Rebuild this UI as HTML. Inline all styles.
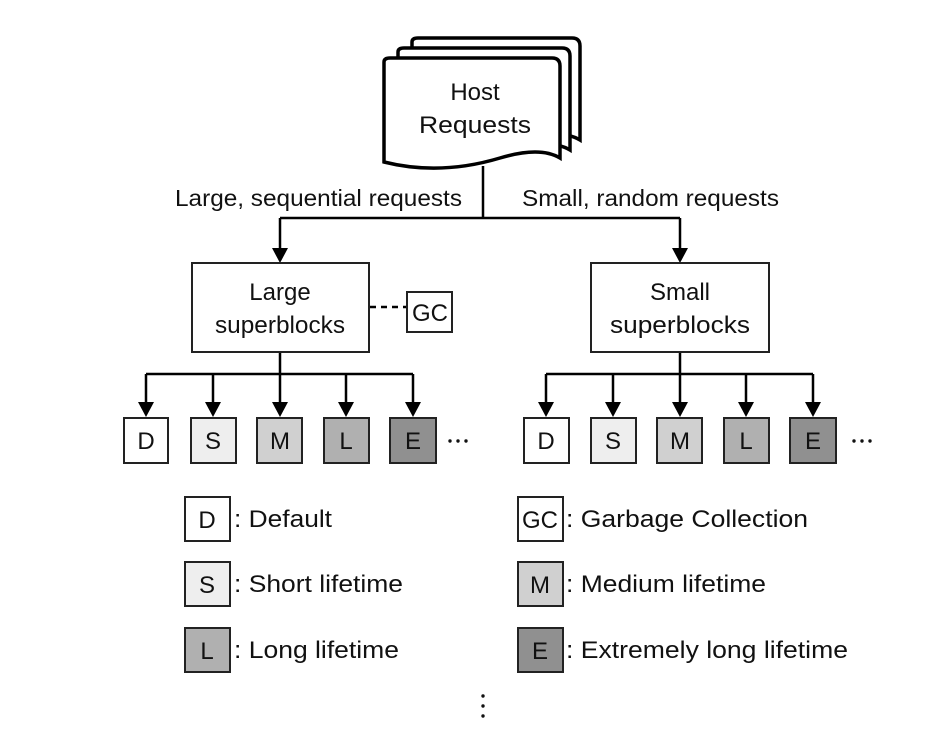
<!DOCTYPE html>
<html><head><style>
body{margin:0;background:#fff;}
svg text{font-family:"Liberation Sans",Arial,sans-serif;fill:#111;}
</style></head><body>
<svg width="950" height="735" viewBox="0 0 950 735" xmlns="http://www.w3.org/2000/svg">
<g fill="#fff" stroke="#000" stroke-width="3.5">
<path d="M412,42 Q412,38 418,38 L572,38 Q580,38 580,46 L580,140 Q560,128 520,140 Q470,156 412,146 Z"/>
<path d="M398,52 Q398,48 404,48 L562,48 Q570,48 570,56 L570,150 Q550,138 510,150 Q460,166 398,156 Z"/>
<path d="M384,62 Q384,58 390,58 L552,58 Q560,58 560,66 L560,158 Q540,146 500,158 Q440,176 384,162 Z"/>
</g>
<text x="475" y="100" font-size="24" text-anchor="middle">Host</text>
<text x="475" y="133" font-size="24" text-anchor="middle" textLength="112" lengthAdjust="spacingAndGlyphs">Requests</text>
<g stroke="#000" stroke-width="2.5" fill="none">
<path d="M483,166 V218 M280,218 H680 M280,218 V250 M680,218 V250"/>
<path d="M280,352 V374 M146,374 H413 M146,374 V405 M213,374 V405 M280,374 V405 M346,374 V405 M413,374 V405"/>
<path d="M680,352 V374 M546,374 H813 M546,374 V405 M613,374 V405 M680,374 V405 M746,374 V405 M813,374 V405"/>
<path d="M370,307 H406" stroke-dasharray="6,5"/>
</g>
<g fill="#000">
<path d="M272,248 L288,248 L280,263 Z"/><path d="M672,248 L688,248 L680,263 Z"/>
<path d="M138,402 l16,0 l-8,15 Z"/><path d="M205,402 l16,0 l-8,15 Z"/><path d="M272,402 l16,0 l-8,15 Z"/><path d="M338,402 l16,0 l-8,15 Z"/><path d="M405,402 l16,0 l-8,15 Z"/>
<path d="M538,402 l16,0 l-8,15 Z"/><path d="M605,402 l16,0 l-8,15 Z"/><path d="M672,402 l16,0 l-8,15 Z"/><path d="M738,402 l16,0 l-8,15 Z"/><path d="M805,402 l16,0 l-8,15 Z"/>
</g>
<text x="175" y="206" font-size="23" textLength="287" lengthAdjust="spacingAndGlyphs">Large, sequential requests</text>
<text x="522" y="206" font-size="23" textLength="257" lengthAdjust="spacingAndGlyphs">Small, random requests</text>
<g stroke="#222" stroke-width="2">
<rect x="192" y="263" width="177" height="89" fill="#fff"/>
<rect x="591" y="263" width="178" height="89" fill="#fff"/>
<rect x="407" y="292" width="45" height="40" fill="#fff"/>
</g>
<text x="280" y="300" font-size="24" text-anchor="middle">Large</text>
<text x="280" y="333" font-size="24" text-anchor="middle" textLength="130" lengthAdjust="spacingAndGlyphs">superblocks</text>
<text x="680" y="300" font-size="24" text-anchor="middle">Small</text>
<text x="680" y="333" font-size="24" text-anchor="middle" textLength="140" lengthAdjust="spacingAndGlyphs">superblocks</text>
<text x="430" y="321" font-size="24" text-anchor="middle">GC</text>
<g stroke="#222" stroke-width="2">
<rect x="124" y="418" width="44" height="45" fill="#fff"/>
<rect x="191" y="418" width="45" height="45" fill="#eee"/>
<rect x="257" y="418" width="45" height="45" fill="#d0d0d0"/>
<rect x="324" y="418" width="45" height="45" fill="#b0b0b0"/>
<rect x="390" y="418" width="46" height="45" fill="#909090"/>
<rect x="524" y="418" width="45" height="45" fill="#fff"/>
<rect x="591" y="418" width="45" height="45" fill="#eee"/>
<rect x="657" y="418" width="45" height="45" fill="#d0d0d0"/>
<rect x="724" y="418" width="45" height="45" fill="#b0b0b0"/>
<rect x="790" y="418" width="46" height="45" fill="#909090"/>
<rect x="185" y="497" width="45" height="44" fill="#fff"/>
<rect x="185" y="562" width="45" height="44" fill="#eee"/>
<rect x="185" y="628" width="45" height="44" fill="#b0b0b0"/>
<rect x="518" y="497" width="45" height="44" fill="#fff"/>
<rect x="518" y="562" width="45" height="44" fill="#d0d0d0"/>
<rect x="518" y="628" width="45" height="44" fill="#909090"/>
</g>
<g font-size="24" text-anchor="middle">
<text x="146" y="449">D</text><text x="213" y="449">S</text><text x="280" y="449">M</text><text x="346" y="449">L</text><text x="413" y="449">E</text>
<text x="546" y="449">D</text><text x="613" y="449">S</text><text x="680" y="449">M</text><text x="746" y="449">L</text><text x="813" y="449">E</text>
<text x="207" y="528">D</text><text x="207" y="593">S</text><text x="207" y="659">L</text>
<text x="540" y="528">GC</text><text x="540" y="593">M</text><text x="540" y="659">E</text>
</g>
<g fill="#111">
<circle cx="450" cy="441" r="1.7"/><circle cx="458" cy="441" r="1.7"/><circle cx="466" cy="441" r="1.7"/>
<circle cx="854" cy="441" r="1.7"/><circle cx="862" cy="441" r="1.7"/><circle cx="870" cy="441" r="1.7"/>
</g>
<g font-size="24">
<text x="234" y="527" textLength="98" lengthAdjust="spacingAndGlyphs">: Default</text>
<text x="234" y="592" textLength="169" lengthAdjust="spacingAndGlyphs">: Short lifetime</text>
<text x="234" y="658" textLength="165" lengthAdjust="spacingAndGlyphs">: Long lifetime</text>
<text x="566" y="527" textLength="242" lengthAdjust="spacingAndGlyphs">: Garbage Collection</text>
<text x="566" y="592" textLength="200" lengthAdjust="spacingAndGlyphs">: Medium lifetime</text>
<text x="566" y="658" textLength="282" lengthAdjust="spacingAndGlyphs">: Extremely long lifetime</text>
</g>
<g fill="#111"><circle cx="483" cy="696" r="1.7"/><circle cx="483" cy="706" r="1.7"/><circle cx="483" cy="716" r="1.7"/></g>
</svg>
</body></html>
